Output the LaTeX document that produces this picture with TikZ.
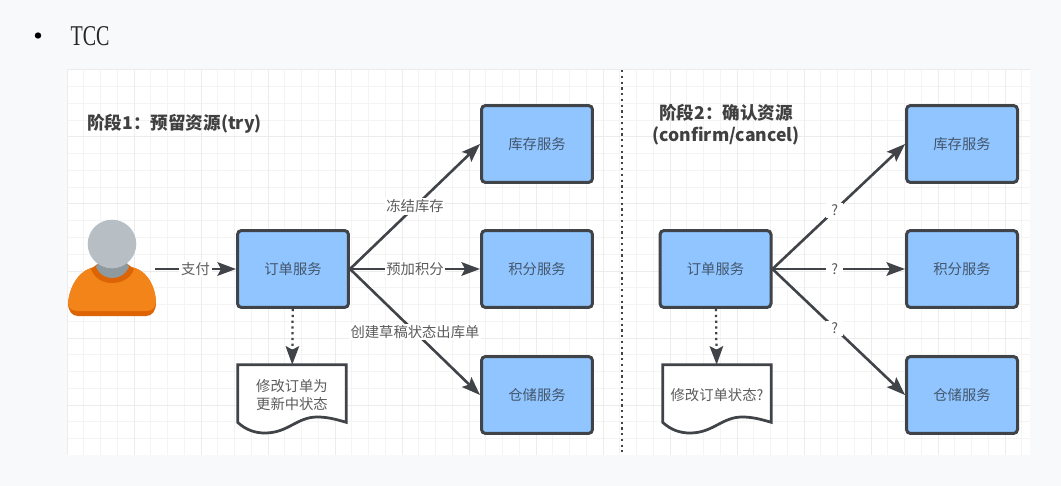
\documentclass[tikz,border=0pt]{standalone}
\usepackage{fontspec}
\setmainfont{Noto Sans CJK SC}
\newfontfamily\tccfont[FakeStretch=0.7]{Liberation Serif}
\usetikzlibrary{arrows, arrows.meta}
\usetikzlibrary{calc}
\definecolor{pagebg}{HTML}{F8F9FB}
\definecolor{gridlo}{HTML}{F4F4F4}
\definecolor{gridhi}{HTML}{ECECEC}
\definecolor{boxblue}{HTML}{90C5FF}
\definecolor{inkline}{HTML}{404347}
\definecolor{boxtext}{HTML}{44566C}
\definecolor{labeltext}{HTML}{5C5C5C}
\definecolor{orangea}{HTML}{F2841A}
\definecolor{orangeb}{HTML}{DC6405}
\definecolor{heada}{HTML}{B8BFC4}
\definecolor{necka}{HTML}{8F9A9E}
\tikzset{
  x=0.02cm, y=-0.02cm,
  svcbox/.style={draw=inkline, fill=boxblue, line width=0.6mm, rounded corners=0.8mm, minimum width=2.22cm, minimum height=1.54cm, inner sep=0pt, text=boxtext, font=\fontsize{8.15}{10}\selectfont},
  docbox/.style={minimum width=2.16cm, minimum height=1.2cm, inner sep=0pt, align=center, text=labeltext, font=\fontsize{8.15}{10}\selectfont},
  docline/.style={draw=inkline, fill=white, line width=0.55mm, line join=miter},
  flow/.style={draw=inkline, line width=0.52mm, -{Stealth[length=3.7mm, width=2.7mm, inset=0.7mm]}},
  flowdot/.style={flow, line width=0.45mm, dotted},
  flowlabel/.style={fill=white, inner sep=1pt, text=labeltext, font=\fontsize{8.15}{10}\selectfont},
  asklabel/.style={flowlabel, inner xsep=3pt, inner ysep=1pt},
  phasetitle/.style={inner sep=0pt, text=black!75, align=center, font=\fontsize{10}{12.5}\selectfont\bfseries}
}
\begin{document}
\begin{tikzpicture}
      \fill[pagebg] (0,0) rectangle (1061,486);
      \useasboundingbox (0,0) rectangle (1061,486);
      \fill[white] (67,70) rectangle (1030,455);

      % canvas grid
      \foreach \i in {0,...,57} {
        \draw[gridlo, line width=0.2mm] ({67+16.75*\i},70) -- ({67+16.75*\i},455);
      }
      \foreach \i in {0,...,22} {
        \draw[gridlo, line width=0.2mm] (67,{70+16.75*\i}) -- (1030,{70+16.75*\i});
      }
      \foreach \i in {0,...,14} {
        \draw[gridhi, line width=0.2mm] ({67+67*\i},70) -- ({67+67*\i},455);
      }
      \foreach \i in {0,...,5} {
        \draw[gridhi, line width=0.2mm] (67,{70+67*\i}) -- (1030,{70+67*\i});
      }

      \fill[black] (38,35.5) circle[radius=3.2];
      \node[inner sep=0pt, text=black!85, font=\fontsize{16.3}{18}\tccfont] (tcc) at (90,36) {TCC};

      \node[phasetitle, anchor=west] (title1) at (87,124) {阶段1：预留资源(try)};
      \node[phasetitle] (title2) at (726,125) {阶段2：确认资源\\(confirm/cancel)};

      \coordinate (divtop) at (622,70);
      \coordinate (divbot) at (622,452);
      \draw[inkline, line width=0.45mm, dotted] (divtop) -- (divbot);

      % user
      \fill[orangeb] (68,303) .. controls (70,283) and (82,268) .. (96,267) -- (130,267) .. controls (144,268) and (155,283) .. (156,303) .. controls (156,311) and (152,316) .. (146,316) -- (78,316) .. controls (72,316) and (68,311) .. (68,303) -- cycle;
      \fill[orangea] (68,303) .. controls (70,283) and (82,268) .. (96,267) -- (130,267) .. controls (144,268) and (155,283) .. (156,301) .. controls (156,308) and (152,311) .. (146,311) -- (78,311) .. controls (72,311) and (68,308) .. (68,303) -- cycle;
      \fill[orangeb] (91,269) .. controls (95,280) and (105,283) .. (112,283) .. controls (120,283) and (130,280) .. (134,269) -- (125,262) -- (100,262) -- cycle;
      \fill[necka] (96,267) .. controls (100,275) and (106,278) .. (112,278) .. controls (119,278) and (125,275) .. (129,267) -- (125,260) -- (100,260) -- cycle;
      \fill[heada] (112,244) circle[radius=24.3];
      \coordinate (user) at (155,269);

      % try
      \node[svcbox] (order1) at (293,269) {订单服务};
      \node[svcbox] (stock1) at (537,144) {库存服务};
      \node[svcbox] (point1) at (537,269) {积分服务};
      \node[svcbox] (store1) at (537,395) {仓储服务};
      \node[docbox] (doc1) at (292,395) {};

      \draw[docline] (doc1.north west) -- (doc1.north east) -- ($(doc1.south east)+(0,-3)$) .. controls (335,419) and (327,417) .. (317,417) .. controls (297,417) and (288,433) .. (265,433) .. controls (255,433) and (246,430) .. ($(doc1.south west)+(0,-3)$) -- cycle;
      \node[docbox] at (doc1) {修改订单为\\更新中状态};

      \draw[flow] (user) -- node[flowlabel] {支付} (order1);
      \draw[flow] (order1.east) -- node[flowlabel] {冻结库存} (stock1.west);
      \draw[flow] (order1.east) -- node[flowlabel] {预加积分} (point1.west);
      \draw[flow] (order1.east) -- node[flowlabel] {创建草稿状态出库单} (store1.west);
      \draw[flowdot] (order1) -- (doc1);

      % confirm/cancel
      \node[svcbox] (order2) at (715.5,269) {订单服务};
      \node[svcbox] (stock2) at (962,144) {库存服务};
      \node[svcbox] (point2) at (962,269) {积分服务};
      \node[svcbox] (store2) at (962,395) {仓储服务};
      \node[docbox] (doc2) at (717,395) {};

      \draw[docline] (doc2.north west) -- (doc2.north east) -- ($(doc2.south east)+(0,-3)$) .. controls (760,419) and (752,417) .. (742,417) .. controls (722,417) and (713,433) .. (690,433) .. controls (680,433) and (671,430) .. ($(doc2.south west)+(0,-3)$) -- cycle;
      \node[docbox] at (doc2) {修改订单状态?};

      \draw[flow] (order2.east) -- node[asklabel, pos=0.47] {?} (stock2.west);
      \draw[flow] (order2.east) -- node[asklabel, pos=0.47] {?} (point2.west);
      \draw[flow] (order2.east) -- node[asklabel, pos=0.47] {?} (store2.west);
      \draw[flowdot] (order2) -- (doc2);
\end{tikzpicture}
\end{document}
